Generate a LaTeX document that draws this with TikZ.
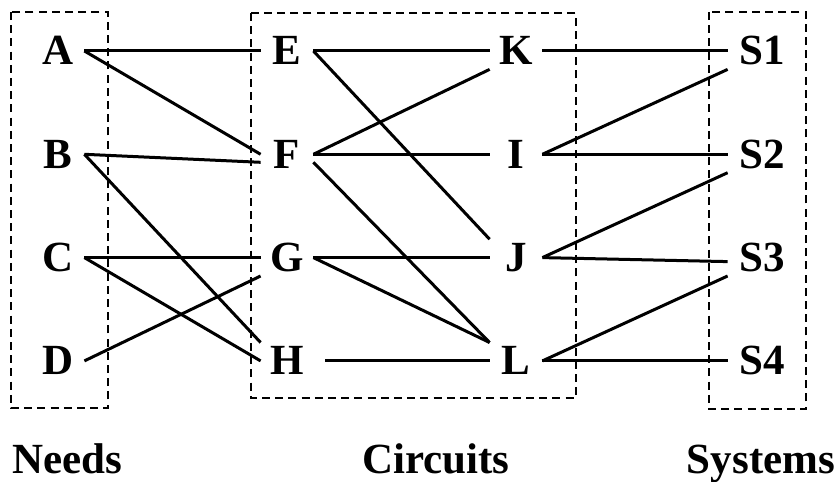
\documentclass[tikz,border=0pt]{standalone}
\usepackage{fontspec}
\setmainfont{Liberation Serif}
\usetikzlibrary{positioning}

\begin{document}
\begin{tikzpicture}[x=0.5pt,y=-0.5pt,node distance=51.65pt]
    % letters of the three columns, boxes and links
    \tikzstyle{letter}=[font=\fontsize{21.5}{24}\bfseries\selectfont,text height=14pt,text depth=0pt,
    inner ysep=2pt,inner xsep=0pt,minimum width=26pt]
    \tikzstyle{system}=[letter,minimum width=34pt]
    \tikzstyle{link}=[line width=1.5pt]
    \tikzstyle{group}=[line width=1pt,dash pattern=on 4pt off 2.6pt]

    \useasboundingbox (0,0) rectangle (838,481);

    \draw [group] (11,12) rectangle (108,408);
    \draw [group] (251,13) rectangle (576,398);
    \draw [group] (709,12) rectangle (806,409);

    \node [letter] (A) at (58,51) {A};
    \node [letter] (B) [below of=A] {B};
    \node [letter] (C) [below of=B] {C};
    \node [letter] (D) [below of=C] {D};

    \node [letter] (E) at (287,51) {E};
    \node [letter] (F) [below of=E] {F};
    \node [letter] (G) [below of=F] {G};
    \node [letter] (H) [below of=G] {H};

    \node [letter] (K) at (516,51) {K};
    \node [letter] (I) [below of=K] {I};
    \node [letter] (J) [below of=I] {J};
    \node [letter] (L) [below of=J] {L};

    \node [system] (S1) at (762,51) {S1};
    \node [system] (S2) [below of=S1] {S2};
    \node [system] (S3) [below of=S2] {S3};
    \node [system] (S4) [below of=S3] {S4};

    \node [letter] (needs) at (67,459) {Needs};
    \node [letter] (circuits) at (436,459) {Circuits};
    \node [letter] (systems) at (761,459) {Systems};

    \path (A.east) edge [link] (E.west);
    \path (A.east) edge [link] (F.west);
    \path (B.east) edge [link] ([yshift=-4pt]F.west);
    \path (B.east) edge [link] (H.north west);
    \path (C.east) edge [link] (G.west);
    \path (C.east) edge [link] (H.west);
    \path (D.east) edge [link] (G.south west);

    \path (E.east) edge [link] (K.west);
    \path (E.east) edge [link] (J.north west);
    \path (F.east) edge [link] (K.south west);
    \path (F.east) edge [link] (I.west);
    \path ([yshift=-4pt]F.east) edge [link] (L.north west);
    \path (G.east) edge [link] (J.west);
    \path (G.east) edge [link] (L.north west);
    \path (H.east) edge [link,shorten <=6pt] (L.west);

    \path (K.east) edge [link] (S1.west);
    \path (I.east) edge [link] (S1.south west);
    \path (I.east) edge [link] (S2.west);
    \path (J.east) edge [link] (S2.south west);
    \path (J.east) edge [link] ([yshift=-2pt]S3.west);
    \path (L.east) edge [link] (S3.south west);
    \path (L.east) edge [link] (S4.west);

  \end{tikzpicture}
\end{document}
